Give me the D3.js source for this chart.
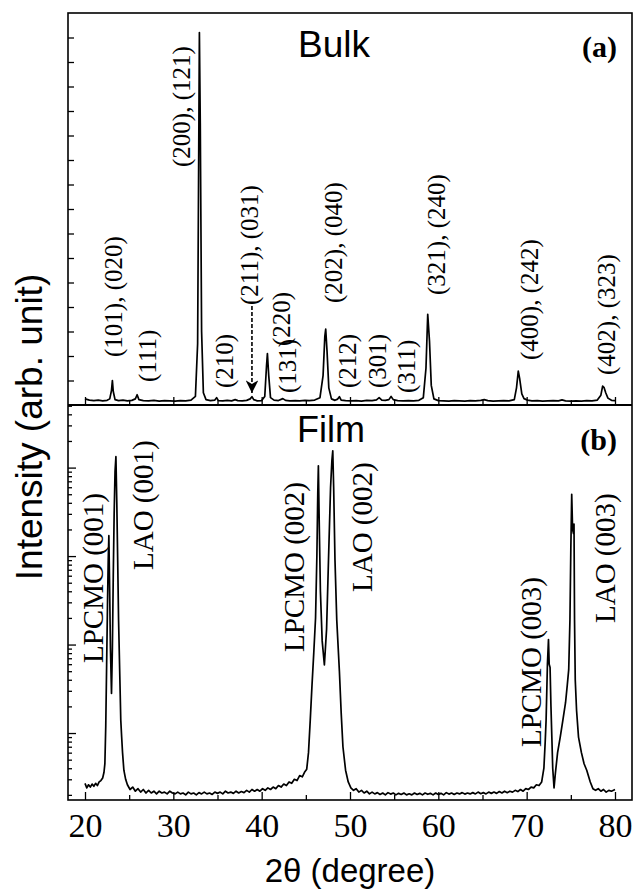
<!DOCTYPE html>
<html>
<head>
<meta charset="utf-8">
<script src="https://cdn.jsdelivr.net/npm/d3@7"></script>
<style>
  body { margin: 0; background: #fff; }
  svg { display: block; }
</style>
</head>
<body>
<div id="chart-container"></div>
<script>
// Bulk pattern (linear intensity, arb. unit)
var bulkTheta = [20.0, 20.5, 21.0, 21.5, 22.0, 22.5, 22.8, 23.0, 23.1, 23.2, 23.4, 23.8, 24.3, 24.8, 25.3, 25.7, 25.9, 26.1, 26.6, 27.2, 27.8, 28.4, 29.0, 29.6, 30.2, 30.8, 31.4, 32.0, 32.5, 32.75, 32.9, 32.95, 33.05, 33.2, 33.4, 33.7, 34.2, 34.7, 34.9, 35.1, 35.6, 36.1, 36.6, 37.0, 37.3, 37.8, 38.3, 38.7, 38.9, 39.1, 39.5, 40.0, 40.35, 40.55, 40.65, 40.8, 41.0, 41.4, 41.9, 42.4, 42.7, 43.2, 43.8, 44.3, 44.9, 45.4, 46.0, 46.6, 46.95, 47.15, 47.25, 47.4, 47.6, 47.9, 48.3, 48.6, 48.8, 49.0, 49.5, 50.1, 50.7, 51.3, 51.9, 52.5, 53.0, 53.3, 53.6, 54.0, 54.4, 54.65, 54.9, 55.4, 56.0, 56.6, 57.2, 57.8, 58.3, 58.6, 58.8, 59.0, 59.2, 59.5, 60.0, 60.6, 61.2, 61.8, 62.4, 63.0, 63.6, 64.2, 64.8, 65.2, 65.6, 66.2, 66.8, 67.4, 68.0, 68.6, 68.85, 69.05, 69.2, 69.45, 69.7, 70.1, 70.6, 71.2, 71.8, 72.4, 73.0, 73.6, 74.0, 74.4, 75.0, 75.6, 76.2, 76.8, 77.4, 78.0, 78.4, 78.6, 78.75, 78.95, 79.2, 79.6, 80.0];
var bulkCounts = [0.25, 0.2, 0.18, 0.2, 0.17, 0.19, 0.25, 0.6, 1.0, 0.55, 0.22, 0.18, 0.2, 0.17, 0.19, 0.25, 0.42, 0.22, 0.18, 0.17, 0.19, 0.16, 0.18, 0.17, 0.16, 0.18, 0.17, 0.2, 0.35, 2.5, 12.0, 15.2, 11.5, 3.0, 0.5, 0.22, 0.18, 0.2, 0.3, 0.18, 0.17, 0.19, 0.17, 0.22, 0.18, 0.17, 0.19, 0.25, 0.34, 0.22, 0.17, 0.18, 0.35, 1.6, 2.1, 1.2, 0.3, 0.2, 0.18, 0.26, 0.19, 0.17, 0.18, 0.17, 0.19, 0.18, 0.2, 0.3, 1.2, 2.8, 3.1, 2.2, 0.7, 0.25, 0.19, 0.24, 0.34, 0.2, 0.18, 0.17, 0.18, 0.16, 0.19, 0.18, 0.21, 0.3, 0.2, 0.19, 0.22, 0.35, 0.22, 0.18, 0.17, 0.18, 0.17, 0.19, 0.3, 1.5, 3.7, 2.6, 0.8, 0.25, 0.18, 0.17, 0.16, 0.18, 0.17, 0.16, 0.18, 0.17, 0.19, 0.22, 0.18, 0.16, 0.17, 0.18, 0.17, 0.22, 0.7, 1.38, 1.1, 0.45, 0.26, 0.2, 0.17, 0.18, 0.16, 0.17, 0.18, 0.17, 0.21, 0.17, 0.16, 0.17, 0.16, 0.18, 0.17, 0.2, 0.4, 0.77, 0.72, 0.5, 0.28, 0.19, 0.18];

// Film pattern (log intensity, arb. unit)
var filmTheta = [20.0, 20.2, 20.4, 20.6, 20.8, 21.0, 21.2, 21.4, 21.6, 21.8, 22.0, 22.15, 22.25, 22.35, 22.45, 22.55, 22.63, 22.7, 22.78, 22.88, 23.0, 23.1, 23.2, 23.3, 23.4, 23.5, 23.6, 23.7, 23.8, 23.95, 24.05, 24.15, 24.25, 24.4, 24.6, 24.8,
  25.1, 25.4, 25.7, 26.0, 26.3, 26.6, 26.9, 27.2, 27.5, 27.8, 28.1, 28.4, 28.7, 29.0, 29.3, 29.6, 29.9, 30.2, 30.5, 30.8, 31.1, 31.4, 31.7, 32.0, 32.3, 32.6, 32.9, 33.2, 33.5, 33.8, 34.1, 34.4, 34.7, 35.0, 35.3, 35.6, 35.9, 36.2, 36.5, 36.8, 37.1, 37.4, 37.7, 38.0, 38.3, 38.6, 38.9, 39.2, 39.5, 39.8, 40.1, 40.4, 40.7, 41.0, 41.3, 41.6, 41.9, 42.2, 42.5, 42.8, 43.1, 43.4, 43.7, 44.0, 44.3, 44.6, 44.85,
  45.1, 45.3, 45.5, 45.7, 45.9, 46.1, 46.25, 46.35, 46.42, 46.5, 46.65, 46.85, 47.1, 47.35, 47.6, 47.8, 47.95, 48.05, 48.15, 48.3, 48.5, 48.8, 49.0, 49.2, 49.5, 49.8,
  50.1, 50.4, 50.7, 51.0, 51.3, 51.6, 51.9, 52.2, 52.5, 52.8, 53.1, 53.4, 53.7, 54.0, 54.3, 54.6, 54.9, 55.2, 55.5, 55.8, 56.1, 56.4, 56.7, 57.0, 57.3, 57.6, 57.9, 58.2, 58.5, 58.8, 59.1, 59.4, 59.7, 60.0, 60.3, 60.6, 60.9, 61.2, 61.5, 61.8, 62.1, 62.4, 62.7, 63.0, 63.3, 63.6, 63.9, 64.2, 64.5, 64.8, 65.1, 65.4, 65.7, 66.0, 66.3, 66.6, 66.9, 67.2, 67.5, 67.8, 68.1, 68.4, 68.7, 69.0, 69.3, 69.6, 69.9, 70.2, 70.5, 70.8, 71.1, 71.4, 71.7,
  71.95, 72.1, 72.2, 72.35, 72.47, 72.55, 72.65, 72.75, 72.85, 72.95, 73.1, 73.25, 73.5, 73.8, 74.1, 74.4, 74.6, 74.76, 74.9, 75.0, 75.1, 75.2, 75.3, 75.36, 75.42, 75.5, 75.65, 75.87, 76.2, 76.5, 76.8, 77.2, 77.5, 77.8, 78.1, 78.4, 78.7, 79.0, 79.3, 79.6, 80.0];
var filmCounts = [2.7, 2.4, 2.6, 2.45, 2.65, 2.5, 2.7, 2.55, 2.8, 2.9, 3.1, 3.6, 4.5, 12, 60, 300, 900, 1700, 500, 90, 28, 90, 600, 3000, 9000, 13300, 4000, 900, 190, 40, 14, 9, 6, 3.8, 3.0, 2.6,
  2.3, 2.45, 2.2, 2.35, 2.15, 2.3, 2.1, 2.25, 2.1, 2.2, 2.05, 2.2, 2.1, 2.15, 2.05, 2.2, 2.1, 2.05, 2.15, 2.05, 2.1, 2.0, 2.15, 2.05, 2.1, 2.0, 2.12, 2.05, 2.15, 2.05, 2.1, 2.02, 2.15, 2.08, 2.15, 2.05, 2.2, 2.1, 2.15, 2.08, 2.2, 2.1, 2.18, 2.12, 2.25, 2.15, 2.3, 2.2, 2.3, 2.2, 2.35, 2.25, 2.4, 2.3, 2.45, 2.35, 2.55, 2.45, 2.65, 2.55, 2.8, 2.7, 3.0, 2.9, 3.3, 3.2, 3.6,
  3.9, 6, 14, 35, 81, 200, 1000, 5000, 10500, 3000, 400, 110, 59, 150, 1200, 6000, 12000, 15500, 6000, 900, 190, 50, 17, 7, 3.8, 2.8,
  2.4, 2.25, 2.35, 2.15, 2.25, 2.1, 2.2, 2.05, 2.15, 2.05, 2.12, 2.02, 2.1, 2.0, 2.12, 2.04, 2.1, 2.0, 2.08, 2.02, 2.1, 2.0, 2.06, 2.0, 2.1, 2.02, 2.08, 2.0, 2.1, 2.03, 2.08, 2.0, 2.1, 2.02, 2.08, 2.0, 2.12, 2.04, 2.1, 2.02, 2.1, 2.05, 2.12, 2.04, 2.1, 2.05, 2.12, 2.05, 2.15, 2.06, 2.12, 2.05, 2.15, 2.08, 2.15, 2.08, 2.18, 2.1, 2.2, 2.12, 2.2, 2.15, 2.25, 2.18, 2.3, 2.2, 2.35, 2.3, 2.45, 2.4, 2.6, 2.55, 2.8,
  4, 8, 14, 60, 114, 60, 55, 20, 9, 4, 2.4, 3.5, 6, 9, 14, 22, 35, 52, 190, 1200, 5000, 2000, 1800, 2300, 190, 40, 18, 9, 6, 4.5, 3.8, 2.8, 2.35, 2.25, 2.35, 2.2, 2.3, 2.15, 2.25, 2.2, 2.3];

// Axis ticks
var xTicks = [20, 30, 40, 50, 60, 70, 80];
var xMinorTicks = [25, 35, 45, 55, 65, 75];
var bulkTicks = [1, 2, 3, 4, 5, 6, 7, 8, 9, 10, 11, 12, 13, 14, 15];
var filmMajorTicks = [10, 100, 1000, 10000];
var filmMinorTicks = [2, 3, 4, 5, 6, 7, 8, 9, 20, 30, 40, 50, 60, 70, 80, 90, 200, 300, 400, 500, 600, 700, 800, 900, 2000, 3000, 4000, 5000, 6000, 7000, 8000, 9000, 20000, 30000, 40000, 50000];

// Peak labels
var bulkLabels = ["(101), (020)", "(111)", "(200), (121)", "(210)", "(211), (031)", "(220)", "(131)", "(202), (040)", "(212)", "(301)", "(311)", "(321), (240)", "(400), (242)", "(402), (323)"];
var filmLabels = ["LPCMO (001)", "LAO (001)", "LPCMO (002)", "LAO (002)", "LPCMO (003)", "LAO (003)"];

// label layout: [baseline x, bottom end y] in pixels
var bulkLabelPos = [[122, 357], [156, 382], [190, 167], [233, 388], [258, 305], [290, 346], [296, 393], [342, 303], [356, 388], [386, 388], [415, 393], [445, 295], [538, 360], [615, 375]];
var filmLabelPos = [[103, 663], [153, 570], [304, 652], [372, 592], [541, 747], [615, 623]];

var W = 635, H = 889;
var plotLeft = 68, plotRight = 632, plotTop = 13, plotMid = 405, plotBottom = 800;

var svg = d3.select("#chart-container").append("svg")
    .attr("width", W)
    .attr("height", H);

var x = d3.scaleLinear().domain([18.075, 81.925]).range([plotLeft, plotRight]);
var yTop = d3.scaleLinear().domain([0, 16]).range([plotMid, plotTop]);
var yBot = d3.scaleLog().domain([1.75, 51000]).range([plotBottom, plotMid]);

var serif = "'Liberation Serif', 'Times New Roman', serif";
var sans = "'Liberation Sans', Arial, sans-serif";

// data lines
var bulkLine = d3.line()
    .x(function (d, i) { return x(bulkTheta[i]); })
    .y(function (d, i) { return yTop(bulkCounts[i]); });
var filmLine = d3.line()
    .x(function (d, i) { return x(filmTheta[i]); })
    .y(function (d, i) { return yBot(filmCounts[i]); });

svg.append("path")
    .datum(bulkTheta)
    .attr("d", bulkLine)
    .attr("fill", "none")
    .attr("stroke", "#000")
    .attr("stroke-width", 1.7)
    .attr("stroke-linejoin", "round");

svg.append("path")
    .datum(filmTheta)
    .attr("d", filmLine)
    .attr("fill", "none")
    .attr("stroke", "#000")
    .attr("stroke-width", 1.7)
    .attr("stroke-linejoin", "round");

// axes (inward ticks)
function tickAxis(axis, tx, ty) {
    var g = svg.append("g")
        .attr("transform", "translate(" + tx + "," + ty + ")")
        .call(axis);
    g.select(".domain").remove();
    g.selectAll("line").attr("stroke", "#000").attr("stroke-width", 1.3);
    return g;
}

tickAxis(d3.axisBottom(x).tickValues(xTicks).tickSize(-8).tickFormat(""), 0, plotMid);
tickAxis(d3.axisBottom(x).tickValues(xMinorTicks).tickSize(-5).tickFormat(""), 0, plotMid);
var xAxis = tickAxis(d3.axisBottom(x).tickValues(xTicks).tickSize(-8).tickPadding(13).tickFormat(d3.format("d")), 0, plotBottom);
xAxis.selectAll("text")
    .attr("font-family", serif)
    .attr("font-size", 34)
    .attr("fill", "#000");
tickAxis(d3.axisBottom(x).tickValues(xMinorTicks).tickSize(-5).tickFormat(""), 0, plotBottom);

tickAxis(d3.axisLeft(yTop).tickValues(bulkTicks).tickSize(-6).tickFormat(""), plotLeft, 0);
tickAxis(d3.axisLeft(yBot).tickValues(filmMajorTicks).tickSize(-8).tickFormat(""), plotLeft, 0);
tickAxis(d3.axisLeft(yBot).tickValues(filmMinorTicks).tickSize(-4).tickFormat(""), plotLeft, 0);

// frame
svg.append("rect")
    .attr("x", plotLeft).attr("y", plotTop)
    .attr("width", plotRight - plotLeft).attr("height", plotBottom - plotTop)
    .attr("fill", "none").attr("stroke", "#000").attr("stroke-width", 1.6);
svg.append("line")
    .attr("x1", plotLeft).attr("x2", plotRight)
    .attr("y1", plotMid).attr("y2", plotMid)
    .attr("stroke", "#000").attr("stroke-width", 2);

// peak labels
function rotLabels(labels, pos, size) {
    svg.selectAll(null)
        .data(labels)
        .enter().append("text")
        .attr("transform", function (d, i) { return "translate(" + pos[i][0] + "," + pos[i][1] + ") rotate(-90)"; })
        .attr("font-family", serif)
        .attr("font-size", size)
        .attr("fill", "#000")
        .text(function (d) { return d; });
}
rotLabels(bulkLabels, bulkLabelPos, 25);
rotLabels(filmLabels, filmLabelPos, 29);

// dashed arrow to the (211), (031) peak
svg.append("defs").append("marker")
    .attr("id", "arrow")
    .attr("viewBox", "0 0 10 10")
    .attr("refX", 10).attr("refY", 5)
    .attr("markerWidth", 9).attr("markerHeight", 8)
    .attr("markerUnits", "strokeWidth")
    .attr("orient", "auto")
    .append("path")
    .attr("d", "M0,0L10,5L0,10L3,5z")
    .attr("fill", "#000");
svg.append("line")
    .attr("x1", x(38.9)).attr("x2", x(38.9))
    .attr("y1", 306).attr("y2", 393)
    .attr("stroke", "#000")
    .attr("stroke-width", 1.6)
    .attr("stroke-dasharray", "4,2")
    .attr("marker-end", "url(#arrow)");

// panel titles
svg.append("text").attr("x", 298).attr("y", 57)
    .attr("font-family", sans).attr("font-size", 37).text("Bulk");
svg.append("text").attr("x", 617).attr("y", 57)
    .attr("text-anchor", "end").attr("font-family", serif)
    .attr("font-weight", "bold").attr("font-size", 30).text("(a)");
svg.append("text").attr("x", 297).attr("y", 442)
    .attr("font-family", sans).attr("font-size", 36).text("Film");
svg.append("text").attr("x", 617).attr("y", 450)
    .attr("text-anchor", "end").attr("font-family", serif)
    .attr("font-weight", "bold").attr("font-size", 30).text("(b)");

// axis titles
svg.append("text").attr("x", (plotLeft + plotRight) / 2).attr("y", 882)
    .attr("text-anchor", "middle").attr("font-family", sans)
    .attr("font-size", 33).text("2θ (degree)");
svg.append("text")
    .attr("transform", "translate(42,427) rotate(-90)")
    .attr("text-anchor", "middle").attr("font-family", sans)
    .attr("font-size", 37).text("Intensity (arb. unit)");
</script>
</body>
</html>
